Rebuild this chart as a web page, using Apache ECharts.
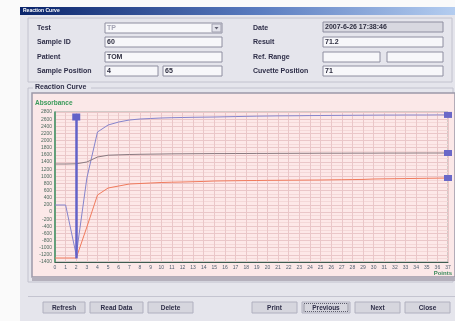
<!DOCTYPE html>
<html><head><meta charset="utf-8">
<script src="https://cdn.jsdelivr.net/npm/echarts@6/dist/echarts.min.js"></script>
<style>html,body{margin:0;padding:0;background:#fafafa;}#c{width:455px;height:321px;}</style>
</head><body><div id="c"></div><script>
// ---- data ----
const points = ['0','1','2','3','4','5','6','7','8','9','10','11','12','13','14','15','16','17','18','19','20','21','22','23','24','25','26','27','28','29','30','31','32','33','34','35','36','37'];
const curveTop = [196,196,-1204,952,2240,2436,2520,2576,2604,2618,2632,2640,2646,2652,2656,2660,2666,2672,2678,2684,2688,2692,2694,2696,2700,2702,2704,2706,2708,2710,2712,2714,2714,2716,2716,2716,2718,2718];
const curveMid = [1344,1344,1350,1400,1540,1590,1600,1610,1616,1620,1624,1628,1630,1632,1634,1636,1636,1638,1638,1640,1640,1642,1642,1644,1644,1646,1646,1646,1648,1648,1648,1650,1650,1650,1652,1652,1652,1652];
const curveLow = [-1288,-1288,-1288,-420,476,672,728,784,798,812,826,834,840,848,856,868,872,876,880,882,886,888,890,892,894,896,900,904,908,912,924,928,932,936,940,944,948,952];
const cursorPoint = '2';
const leftLabels = ['Test','Sample ID','Patient','Sample Position'];
const rightLabels = ['Date','Result','Ref. Range','Cuvette Position'];
const testValue = 'TP';
const sampleIdValue = '60';
const patientValue = 'TOM';
const samplePosValues = ['4','65'];
const dateValue = '2007-6-26 17:38:46';
const resultValue = '71.2';
const refRangeValues = ['',''];
const cuvetteValue = '71';
const buttonLabels = ['Refresh','Read Data','Delete','Print','Previous','Next','Close'];

// ---- layout ----
const FONT = '"Liberation Sans", Arial, sans-serif';
const rowY = [28, 42, 57, 71];
const els = [];
function rect(x,y,w,h,style,z){ els.push({type:'rect', z: z===undefined?-5:z, shape:{x,y,width:w,height:h}, style, silent:true}); }
function text(x,y,t,opt){ opt=opt||{}; els.push({type:'text', z:opt.z||5, x, y, silent:true, style:{text:t, fill:opt.fill||'#2e2e48', font:(opt.weight||'bold')+' '+(opt.size||7)+'px '+FONT, textAlign:opt.align||'left', align:opt.align||'left', textVerticalAlign:'middle', verticalAlign:'middle'}}); }
function box(x,y,w,h,val,fill,tcol){ rect(x,y,w,h,{fill:fill||'#f7f7fa', stroke:'#8e8ea0', lineWidth:1},-4); if(val) text(x+2,y+h/2+0.5,val,{fill:tcol||'#2e2e40'}); }

// window
rect(20,15,435,306,{fill:'#e5e5ec'},-9);
rect(20,7,435,8,{fill:new echarts.graphic.LinearGradient(0,0,1,0,[{offset:0,color:'#0a246a'},{offset:0.55,color:'#5a7cc0'},{offset:1,color:'#b4cdf0'}])},-8);
text(23,11,'Reaction Curve',{fill:'#ffffff',size:5});
// form group
rect(28,18,424,64,{fill:'none',stroke:'#c2c2ce',lineWidth:1},-7);
leftLabels.forEach((l,i)=>text(37,rowY[i],l));
rightLabels.forEach((l,i)=>text(253,rowY[i],l));
box(105,23,117,10,testValue,null,'#a4a4b4');
rect(212,24,9,8,{fill:'#e2e2ea',stroke:'#a0a0b0',lineWidth:1},-3);
els.push({type:'polygon',z:-2,silent:true,shape:{points:[[214.5,27],[218.5,27],[216.5,29.5]]},style:{fill:'#606070'}});
box(105,37,117,10,sampleIdValue);
box(105,52,117,10,patientValue);
box(105,66,53,10,samplePosValues[0]);
box(163,66,59,10,samplePosValues[1]);
box(323,22,120,10,dateValue,'#d8d8e0');
box(323,37,120,10,resultValue);
box(323,52,57,10,refRangeValues[0]);
box(387,52,56,10,refRangeValues[1]);
box(323,66,120,10,cuvetteValue);
// chart group
rect(28,88,425,194,{fill:'none',stroke:'#c2c2ce',lineWidth:1},-7);
rect(33,83,58,9,{fill:'#e5e5ec'},-6);
text(35,87,'Reaction Curve');
rect(32,93,423,184,{fill:'#fbe8e8',stroke:'#9c98a8',lineWidth:1.5},-5);
rect(32,277,423,4,{fill:'#b4b0bc'},-5);
text(35,103,'Absorbance',{fill:'#3a9a5a',size:6.5});
text(452,273,'Points',{fill:'#3a8a5a',size:6,align:'right'});
// bottom area
rect(28,296,427,1,{fill:'#c4c4d0'},-6);
const btnPos = [[43,42],[90,53],[148,45],[252,45],[302,48],[355,45],[405,45]];
buttonLabels.forEach((b,i)=>{
  const [x,w]=btnPos[i];
  rect(x,302,w,11,{fill:'#d6d6de',stroke:'#b0b0bf',lineWidth:1},-4);
  if(b==='Previous') rect(x+2,303.5,w-4,8,{fill:'none',stroke:'#404050',lineWidth:0.8,lineDash:[1,1]},-3);
  text(x+w/2,308,b,{align:'center',size:6.5});
});

const seriesCommon = {type:'line', symbol:'none', smooth:false, lineStyle:{width:1}};
const endMark = (v)=>({symbol:'rect', symbolSize:[8,6], itemStyle:{color:'#6a68c8'}, label:{show:false}, data:[{coord:[points[points.length-1], v]}]});

const chart = echarts.init(document.getElementById('c'));
chart.setOption({
  animation:false,
  backgroundColor:'#fafafa',
  graphic:{elements:els},
  grid:{left:55, top:112, right:7, bottom:59, show:true, backgroundColor:'#fde8e8', borderColor:'#a6aaa6', borderWidth:1},
  xAxis:{type:'category', data:points, boundaryGap:false,
    axisLine:{onZero:false, lineStyle:{color:'#3e5c50', width:1}}, axisTick:{show:false},
    axisLabel:{interval:0, fontSize:5, color:'#506070', margin:3, fontFamily:FONT},
    splitLine:{show:true, interval:0, lineStyle:{color:'#eac6c8', width:1}}},
  yAxis:{type:'value', min:-1400, max:2800, interval:200,
    axisLine:{show:true, lineStyle:{color:'#3a9060', width:1.5}}, axisTick:{show:false},
    axisLabel:{fontSize:5, color:'#4e6a5e', margin:3, fontFamily:FONT, formatter:(v)=>String(v)},
    splitLine:{lineStyle:{color:'#eac6c8', width:1}},
    minorTick:{show:false, splitNumber:2},
    minorSplitLine:{show:true, lineStyle:{color:'#f4d8d8', width:1}}},
  series:[
    Object.assign({}, seriesCommon, {name:'top', data:curveTop, lineStyle:{width:1, color:'#8584cc'}, itemStyle:{color:'#8584cc'},
      markPoint:endMark(curveTop[curveTop.length-1]),
      markLine:{silent:true, symbol:['none','rect'], symbolSize:[8,7], label:{show:false},
        lineStyle:{color:'#6262c8', width:2.5, type:'solid'}, itemStyle:{color:'#6a68c8'},
        data:[[{coord:[cursorPoint,-1300]},{coord:[cursorPoint,2660]}]]}}),
    Object.assign({}, seriesCommon, {name:'mid', data:curveMid, lineStyle:{width:1, color:'#8a7a80'}, itemStyle:{color:'#8a7a80'},
      markPoint:endMark(curveMid[curveMid.length-1])}),
    Object.assign({}, seriesCommon, {name:'low', data:curveLow, lineStyle:{width:1, color:'#f07a5c'}, itemStyle:{color:'#f07a5c'},
      markPoint:endMark(curveLow[curveLow.length-1])})
  ]
});
</script></body></html>
